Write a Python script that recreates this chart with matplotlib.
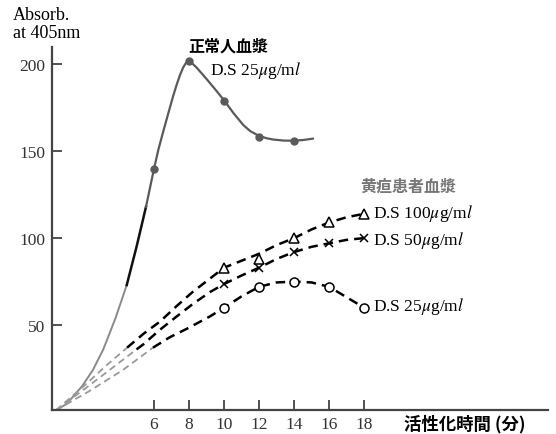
import matplotlib
matplotlib.use("Agg")
import matplotlib.pyplot as plt

normal_x = [0.4, 0.9, 1.3, 1.9, 2.5, 3.1, 3.8, 4.44, 5.0, 5.54, 6.0, 6.25, 6.53, 6.82, 7.1,
            7.3, 7.49, 7.67, 7.82, 7.96, 8.2, 8.44, 9.0, 9.58, 10.02, 10.53, 11.1, 11.5,
            11.96, 12.4, 12.8, 13.4, 13.96, 14.5, 15.07]
normal_y = [1, 4, 8, 15, 24, 36, 54, 73, 95, 118, 140, 151, 161.5, 172, 182,
            188.5, 194, 198.3, 200.7, 201.5, 200.3, 198, 191.5, 184.5, 179, 172, 165, 161.5,
            159, 157.5, 156.7, 156.1, 156, 156.4, 157.2]
normal_mx = [6, 8, 10, 12, 14]
normal_my = [140, 202, 179, 158, 156]

# jaundice patient plasma (dashed curves)
tri_x = [0.4, 2.0, 3.3, 4.46, 5.4, 6.34, 7.3, 8.2, 9.1, 10, 11, 12, 13, 14, 15, 16, 17, 18]
tri_y = [1, 15, 27, 37, 45, 52, 61, 69, 76, 83, 87, 91, 96, 100, 105, 109, 112, 114]
tri_mx = [10, 12, 14, 16, 18]
tri_my = [83, 88, 100, 109, 114]

cross_x = [0.4, 2.0, 3.7, 5.0, 5.4, 6.3, 7.3, 8.2, 9.2, 10, 11, 12, 13, 14, 15, 16, 17, 18]
cross_y = [1, 13, 26, 36, 39, 47, 55, 62, 69, 73.6, 78.5, 83, 88, 92, 95, 97, 99, 100]
cross_mx = [10, 12, 14, 16, 18]
cross_my = [73.6, 83, 92, 97, 100]

circ_x = [0.4, 2.3, 4.2, 5.94, 6.9, 7.9, 9.2, 10, 11, 12, 13, 14, 15, 16, 17, 18]
circ_y = [1, 12, 24, 37, 43, 48, 55, 60, 66.5, 72, 74.5, 75, 74.5, 72, 66, 60]
circ_mx = [10, 12, 14, 16, 18]
circ_my = [60, 72, 75, 72, 60]

x_ticks = [6, 8, 10, 12, 14, 16, 18]
y_ticks = [50, 100, 150, 200]

plt.rcParams['font.family'] = ['Liberation Serif', 'Noto Sans CJK JP']
plt.rcParams['mathtext.fontset'] = 'stix'

fig = plt.figure(figsize=(5.56, 4.35), dpi=100)
ax = fig.add_axes([0.0935, 0.055, 0.892, 0.835])

# solid curve: light lower part, dark middle, grey upper
ax.plot(normal_x[:8], normal_y[:8], color='#8a8a8a', lw=1.4, solid_capstyle='round')
ax.plot(normal_x[7:10], normal_y[7:10], color='#111111', lw=1.8)
ax.plot(normal_x[9:], normal_y[9:], color='#5a5a5a', lw=1.6, solid_joinstyle='round')
ax.plot(normal_mx, normal_my, 'o', color='#5a5a5a', ms=5)

dash = (0, (3.8, 2.4))
for xs, ys, cut in [(tri_x, tri_y, 3), (cross_x, cross_y, 3), (circ_x, circ_y, 3)]:
    ax.plot(xs[:cut + 1], ys[:cut + 1], color='#999999', lw=1.3, linestyle=dash)
    ax.plot(xs[cut:], ys[cut:], color='black', lw=1.8, linestyle=dash)

ax.plot(tri_mx, tri_my, '^', mfc='white', mec='black', ms=7, mew=1.1)
ax.plot(cross_mx, cross_my, 'x', color='black', ms=6, mew=1.1)
ax.plot(circ_mx, circ_my, 'o', mfc='white', mec='black', ms=6.5, mew=1.1)

ax.set_xlim(0.17, 28.5)
ax.set_ylim(1.1, 210)
ax.set_xticks(x_ticks)
ax.set_yticks(y_ticks)
ax.tick_params(direction='in', length=7, width=1.2, colors='#333333', labelsize=12.5)
ax.tick_params(axis='y', pad=5)
ax.tick_params(axis='x', pad=4)
for s in ['top', 'right']:
    ax.spines[s].set_visible(False)
for s in ['left', 'bottom']:
    ax.spines[s].set_linewidth(1.6)
    ax.spines[s].set_color('#444444')

# annotations
ds = r'D.S %s$\mu$g/m$l$'
ax.text(7.94, 211, '正常人血漿', fontsize=11.5, fontweight='bold', va='center', ha='left',
        clip_on=False, family=['Noto Sans CJK JP'])
ax.text(9.2, 197, ds % '25', fontsize=12.5, va='center', ha='left')
ax.text(17.77, 130, '黄疸患者血漿', fontsize=11.5, fontweight='bold', color='#777777',
        va='center', ha='left', family=['Noto Sans CJK JP'])
ax.text(18.5, 115, ds % '100', fontsize=12.5, va='center', ha='left')
ax.text(18.5, 99, ds % '50', fontsize=12.5, va='center', ha='left')
ax.text(18.5, 61, ds % '25', fontsize=12.5, va='center', ha='left')

fig.text(0.023, 0.9655, 'Absorb.', fontsize=13, va='center', ha='left')
fig.text(0.023, 0.922, 'at 405nm', fontsize=13, va='center', ha='left')
fig.text(0.727, 0.025, '活性化時間 (分)', fontsize=12.5, fontweight='bold', va='center', ha='left',
         family=['Noto Sans CJK JP'])

fig.savefig('out.png', dpi=100)
